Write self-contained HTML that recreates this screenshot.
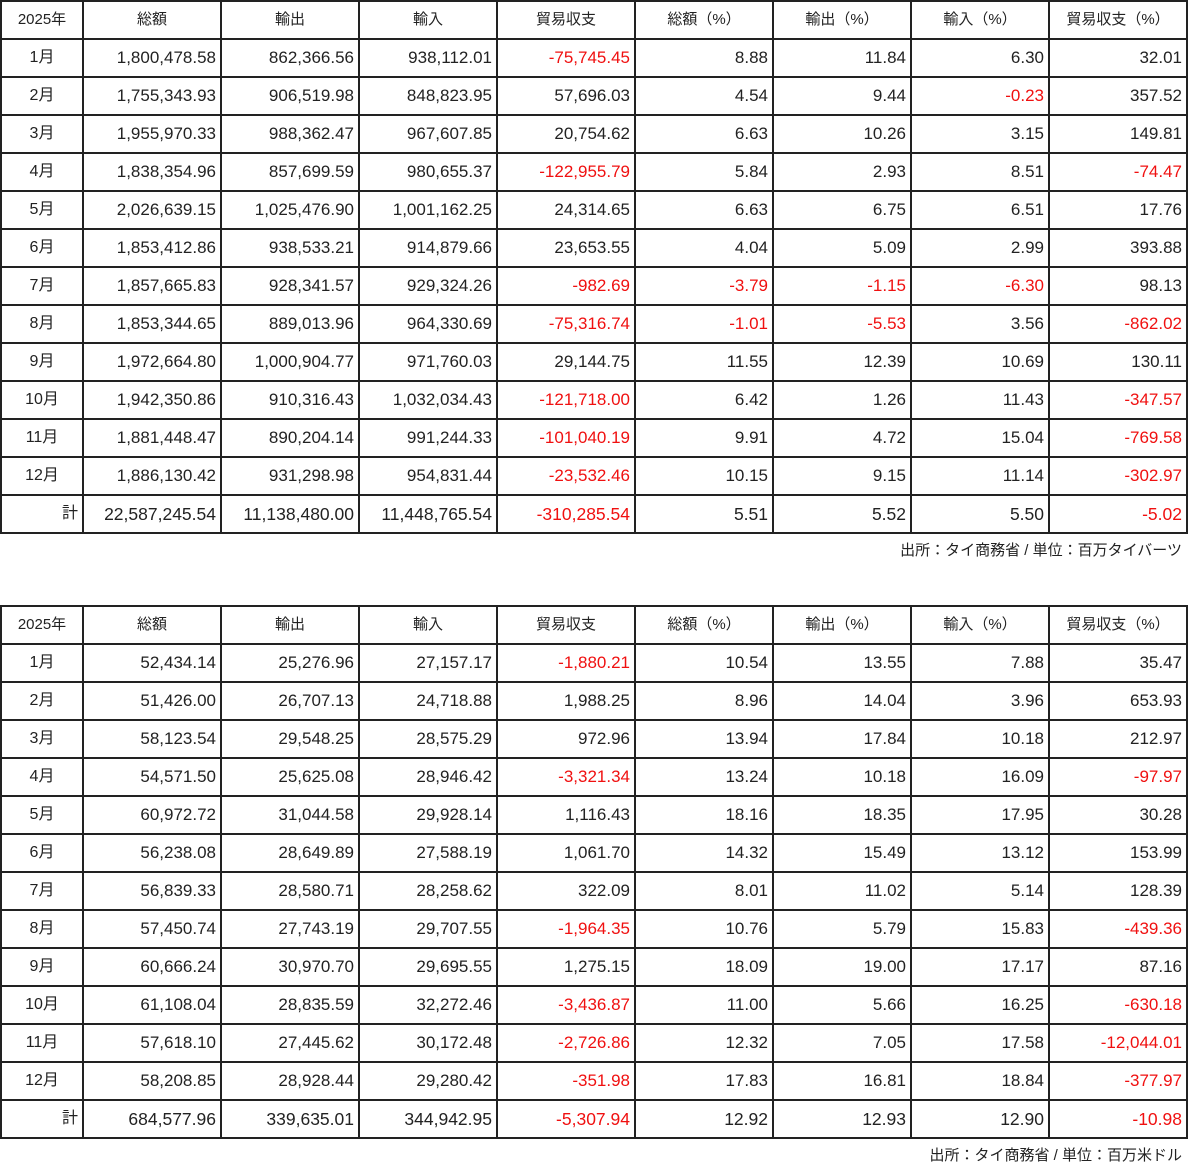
<!DOCTYPE html>
<html><head><meta charset="utf-8"><style>
body{margin:0;background:#fff;font-family:"Liberation Sans","Noto Sans CJK JP",sans-serif;color:#222;}
table{border-collapse:collapse;table-layout:fixed;width:1186px;position:absolute;left:0;}
td{border:2px solid #222;height:36px;padding:0 4px 0 0;text-align:right;font-size:17px;line-height:20px;white-space:nowrap;vertical-align:middle;}
tr.h td{text-align:center;font-size:15px;padding:0;}
td:first-child{text-align:center;padding:0;font-size:16px;}
tr.t td{font-size:17.5px;}
tr.t td:first-child{text-align:right;padding-right:4px;font-size:16px;}
.r{color:#f01010;}
.cap{position:absolute;right:18px;font-size:15px;}
</style></head><body>
<table style="top:0">
<colgroup><col style="width:82px"><col style="width:138px"><col style="width:138px"><col style="width:138px"><col style="width:138px"><col style="width:138px"><col style="width:138px"><col style="width:138px"><col style="width:138px"></colgroup>
<tr class="h"><td>2025年</td><td>総額</td><td>輸出</td><td>輸入</td><td>貿易収支</td><td>総額（%）</td><td>輸出（%）</td><td>輸入（%）</td><td>貿易収支（%）</td></tr>
<tr><td>1月</td><td>1,800,478.58</td><td>862,366.56</td><td>938,112.01</td><td class="r">-75,745.45</td><td>8.88</td><td>11.84</td><td>6.30</td><td>32.01</td></tr>
<tr><td>2月</td><td>1,755,343.93</td><td>906,519.98</td><td>848,823.95</td><td>57,696.03</td><td>4.54</td><td>9.44</td><td class="r">-0.23</td><td>357.52</td></tr>
<tr><td>3月</td><td>1,955,970.33</td><td>988,362.47</td><td>967,607.85</td><td>20,754.62</td><td>6.63</td><td>10.26</td><td>3.15</td><td>149.81</td></tr>
<tr><td>4月</td><td>1,838,354.96</td><td>857,699.59</td><td>980,655.37</td><td class="r">-122,955.79</td><td>5.84</td><td>2.93</td><td>8.51</td><td class="r">-74.47</td></tr>
<tr><td>5月</td><td>2,026,639.15</td><td>1,025,476.90</td><td>1,001,162.25</td><td>24,314.65</td><td>6.63</td><td>6.75</td><td>6.51</td><td>17.76</td></tr>
<tr><td>6月</td><td>1,853,412.86</td><td>938,533.21</td><td>914,879.66</td><td>23,653.55</td><td>4.04</td><td>5.09</td><td>2.99</td><td>393.88</td></tr>
<tr><td>7月</td><td>1,857,665.83</td><td>928,341.57</td><td>929,324.26</td><td class="r">-982.69</td><td class="r">-3.79</td><td class="r">-1.15</td><td class="r">-6.30</td><td>98.13</td></tr>
<tr><td>8月</td><td>1,853,344.65</td><td>889,013.96</td><td>964,330.69</td><td class="r">-75,316.74</td><td class="r">-1.01</td><td class="r">-5.53</td><td>3.56</td><td class="r">-862.02</td></tr>
<tr><td>9月</td><td>1,972,664.80</td><td>1,000,904.77</td><td>971,760.03</td><td>29,144.75</td><td>11.55</td><td>12.39</td><td>10.69</td><td>130.11</td></tr>
<tr><td>10月</td><td>1,942,350.86</td><td>910,316.43</td><td>1,032,034.43</td><td class="r">-121,718.00</td><td>6.42</td><td>1.26</td><td>11.43</td><td class="r">-347.57</td></tr>
<tr><td>11月</td><td>1,881,448.47</td><td>890,204.14</td><td>991,244.33</td><td class="r">-101,040.19</td><td>9.91</td><td>4.72</td><td>15.04</td><td class="r">-769.58</td></tr>
<tr><td>12月</td><td>1,886,130.42</td><td>931,298.98</td><td>954,831.44</td><td class="r">-23,532.46</td><td>10.15</td><td>9.15</td><td>11.14</td><td class="r">-302.97</td></tr>
<tr class="t"><td>計</td><td>22,587,245.54</td><td>11,138,480.00</td><td>11,448,765.54</td><td class="r">-310,285.54</td><td>5.51</td><td>5.52</td><td>5.50</td><td class="r">-5.02</td></tr>
</table>
<div class="cap" style="top:539px">出所：タイ商務省 / 単位：百万タイバーツ</div>
<table style="top:605px">
<colgroup><col style="width:82px"><col style="width:138px"><col style="width:138px"><col style="width:138px"><col style="width:138px"><col style="width:138px"><col style="width:138px"><col style="width:138px"><col style="width:138px"></colgroup>
<tr class="h"><td>2025年</td><td>総額</td><td>輸出</td><td>輸入</td><td>貿易収支</td><td>総額（%）</td><td>輸出（%）</td><td>輸入（%）</td><td>貿易収支（%）</td></tr>
<tr><td>1月</td><td>52,434.14</td><td>25,276.96</td><td>27,157.17</td><td class="r">-1,880.21</td><td>10.54</td><td>13.55</td><td>7.88</td><td>35.47</td></tr>
<tr><td>2月</td><td>51,426.00</td><td>26,707.13</td><td>24,718.88</td><td>1,988.25</td><td>8.96</td><td>14.04</td><td>3.96</td><td>653.93</td></tr>
<tr><td>3月</td><td>58,123.54</td><td>29,548.25</td><td>28,575.29</td><td>972.96</td><td>13.94</td><td>17.84</td><td>10.18</td><td>212.97</td></tr>
<tr><td>4月</td><td>54,571.50</td><td>25,625.08</td><td>28,946.42</td><td class="r">-3,321.34</td><td>13.24</td><td>10.18</td><td>16.09</td><td class="r">-97.97</td></tr>
<tr><td>5月</td><td>60,972.72</td><td>31,044.58</td><td>29,928.14</td><td>1,116.43</td><td>18.16</td><td>18.35</td><td>17.95</td><td>30.28</td></tr>
<tr><td>6月</td><td>56,238.08</td><td>28,649.89</td><td>27,588.19</td><td>1,061.70</td><td>14.32</td><td>15.49</td><td>13.12</td><td>153.99</td></tr>
<tr><td>7月</td><td>56,839.33</td><td>28,580.71</td><td>28,258.62</td><td>322.09</td><td>8.01</td><td>11.02</td><td>5.14</td><td>128.39</td></tr>
<tr><td>8月</td><td>57,450.74</td><td>27,743.19</td><td>29,707.55</td><td class="r">-1,964.35</td><td>10.76</td><td>5.79</td><td>15.83</td><td class="r">-439.36</td></tr>
<tr><td>9月</td><td>60,666.24</td><td>30,970.70</td><td>29,695.55</td><td>1,275.15</td><td>18.09</td><td>19.00</td><td>17.17</td><td>87.16</td></tr>
<tr><td>10月</td><td>61,108.04</td><td>28,835.59</td><td>32,272.46</td><td class="r">-3,436.87</td><td>11.00</td><td>5.66</td><td>16.25</td><td class="r">-630.18</td></tr>
<tr><td>11月</td><td>57,618.10</td><td>27,445.62</td><td>30,172.48</td><td class="r">-2,726.86</td><td>12.32</td><td>7.05</td><td>17.58</td><td class="r">-12,044.01</td></tr>
<tr><td>12月</td><td>58,208.85</td><td>28,928.44</td><td>29,280.42</td><td class="r">-351.98</td><td>17.83</td><td>16.81</td><td>18.84</td><td class="r">-377.97</td></tr>
<tr class="t"><td>計</td><td>684,577.96</td><td>339,635.01</td><td>344,942.95</td><td class="r">-5,307.94</td><td>12.92</td><td>12.93</td><td>12.90</td><td class="r">-10.98</td></tr>
</table>
<div class="cap" style="top:1144px">出所：タイ商務省 / 単位：百万米ドル</div>
</body></html>
